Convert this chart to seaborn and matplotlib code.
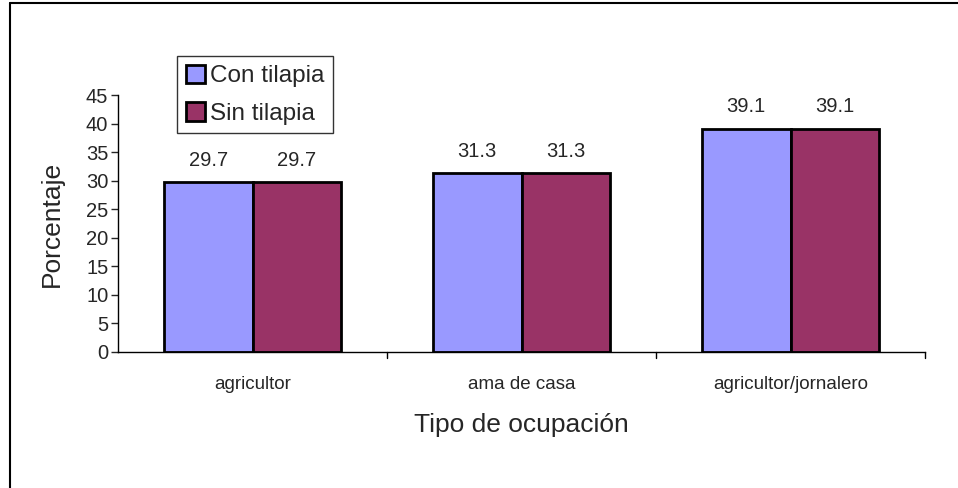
import numpy as np
import pandas as pd
import seaborn as sns
import matplotlib
matplotlib.use("Agg")
from matplotlib import pyplot as plt
from matplotlib.lines import Line2D

categories = ["agricultor", "ama de casa", "agricultor/jornalero"]
series_names = ["Con tilapia", "Sin tilapia"]
con_tilapia = [29.7, 31.3, 39.1]
sin_tilapia = [29.7, 31.3, 39.1]
colors = ["#9999FF", "#993366"]

df = pd.DataFrame({
    "Ocupacion": categories * 2,
    "Serie": [series_names[0]] * 3 + [series_names[1]] * 3,
    "Porcentaje": con_tilapia + sin_tilapia,
})

sns.set_style("white")
plt.rcParams["font.family"] = ["Liberation Sans", "DejaVu Sans"]

fig = plt.figure(figsize=(9.58, 4.88), dpi=100)
ax = fig.add_axes([0.1232, 0.2787, 0.8424, 0.5266])

sns.barplot(data=df, x="Ocupacion", y="Porcentaje", hue="Serie", order=categories,
            hue_order=series_names, palette=colors, width=0.66, saturation=1,
            edgecolor="black", linewidth=2, ax=ax, legend=False)

for cont in ax.containers:
    ax.bar_label(cont, fmt="%.1f", padding=9, fontsize=14.5)

ax.set_xlim(-0.5, 2.5)
ax.set_ylim(0, 45)
ax.set_yticks(np.arange(0, 46, 5))
ax.tick_params(axis="y", labelsize=14.5, length=5, width=1, direction="out", left=True, pad=2)
ax.set_xticks([0, 1, 2])
ax.set_xticklabels(categories, fontsize=13.5)
ax.tick_params(axis="x", length=0, pad=17)
# group separators on x axis
for xb in [0.5, 1.5, 2.5]:
    ax.plot([xb, xb], [0, -1.0], color="black", lw=1, clip_on=False)

for s in ["top", "right"]:
    ax.spines[s].set_visible(False)
for s in ["left", "bottom"]:
    ax.spines[s].set_color("black")
    ax.spines[s].set_linewidth(1)

ax.set_xlabel("Tipo de ocupación", fontsize=19, labelpad=15)
ax.set_ylabel("Porcentaje", fontsize=19, labelpad=16)

handles = [plt.Rectangle((0, 0), 1, 1, facecolor=c, edgecolor="black", linewidth=2) for c in colors]
leg = fig.legend(handles, series_names, loc="upper left", bbox_to_anchor=(0.185, 0.885),
                 fontsize=17.5, frameon=True, fancybox=False, handlelength=0.8, handleheight=0.8,
                 handletextpad=0.2, borderpad=0.35, labelspacing=0.6, borderaxespad=0)
leg.get_frame().set_edgecolor("black")
leg.get_frame().set_linewidth(1)

# outer chart border (top and left visible)
fig.add_artist(Line2D([10 / 958, 1.0], [1 - 3 / 488, 1 - 3 / 488], color="black", lw=1.5, transform=fig.transFigure))
fig.add_artist(Line2D([10 / 958, 10 / 958], [0, 1 - 3 / 488], color="black", lw=1.5, transform=fig.transFigure))

fig.savefig("out.png", dpi=100)
